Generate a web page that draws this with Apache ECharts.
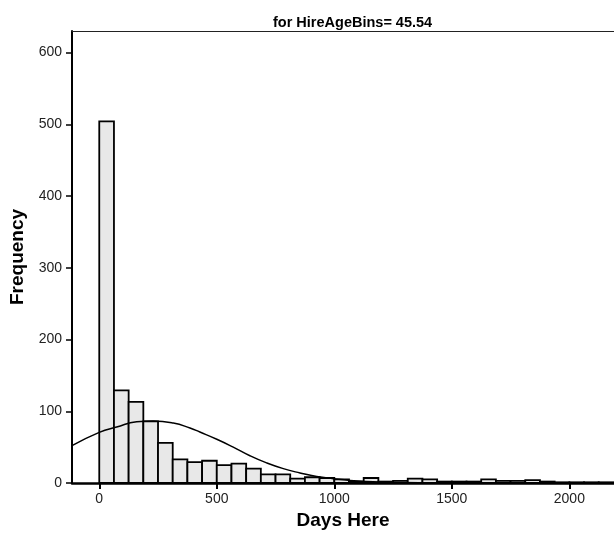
<!DOCTYPE html>
<html>
<head>
	<meta charset="utf-8">
	<title>Days Here</title>
	<style type="text/css">
		body{
			margin: 0px;
			background: #fff;
		}
		.chart{
			width: 614px;
			height: 542px;
		}
	</style>
	<script type="text/javascript" src="https://cdn.jsdelivr.net/npm/echarts@6/dist/echarts.min.js"></script>
</head>
<body>
	<div id="chart" class="chart"></div>
	<script type="text/javascript">
		// histogram: bins of 62.5 days starting at 0
		var binWidth = 62.5;
		var binCounts = [504, 129, 113, 86, 56, 33, 29, 31, 25, 27, 20, 12, 12, 6, 8, 7,
			5, 2, 7, 2, 3, 6, 5, 2, 2, 2, 5, 3, 3, 4, 2, 1, 1, 1, 1];
		// normal curve, points
		var curvePoints = [[-116, 52], [0, 70.5], [74, 78], [159, 85.4], [230, 86.3], [315, 83.5],
			[386, 76.6], [428, 71], [500, 61], [570, 50], [641, 38], [712, 28], [783, 20],
			[854, 14], [925, 9], [996, 6], [1067, 3.6], [1200, 1.5], [1400, 0.4], [1700, 0], [2190, 0]];
		var xTicks = [0, 500, 1000, 1500, 2000];
		var yTicks = [0, 100, 200, 300, 400, 500, 600];

		var binData = [];
		for(var i = 0; i < binCounts.length; i++){
			binData.push([i * binWidth, (i + 1) * binWidth, binCounts[i]]);
		}

		var font = '"Liberation Sans", Arial, sans-serif';
		var chart = echarts.init(document.getElementById('chart'));
		chart.setOption({
			animation: false,
			backgroundColor: '#fff',
			title: {
				text: 'for HireAgeBins= 45.54',
				left: 268,
				top: 10,
				textStyle: {
					fontFamily: font,
					fontWeight: 'bold',
					fontSize: 14.5,
					color: '#000'
				}
			},
			grid: {
				left: 72,
				top: 31,
				right: 0,
				bottom: 59
			},
			xAxis: [{
				type: 'value',
				min: -116,
				max: 2190,
				name: 'Days Here',
				nameLocation: 'middle',
				nameGap: 28,
				nameTextStyle: {
					fontFamily: font,
					fontWeight: 'bold',
					fontSize: 19,
					color: '#000'
				},
				axisLine: {
					onZero: false,
					lineStyle: {color: '#000', width: 2.5}
				},
				axisTick: {
					length: 6,
					customValues: xTicks,
					lineStyle: {color: '#000', width: 2}
				},
				axisLabel: {
					customValues: xTicks,
					margin: 9,
					fontFamily: font,
					fontSize: 14,
					color: '#222',
					formatter: function(v){ return String(v); }
				},
				splitLine: {show: false}
			}, {
				type: 'value',
				position: 'top',
				min: -116,
				max: 2190,
				axisLine: {
					onZero: false,
					lineStyle: {color: '#222', width: 1}
				},
				axisTick: {show: false},
				axisLabel: {show: false},
				splitLine: {show: false}
			}],
			yAxis: {
				type: 'value',
				min: 0,
				max: 630,
				name: 'Frequency',
				nameLocation: 'middle',
				nameGap: 41,
				nameTextStyle: {
					fontFamily: font,
					fontWeight: 'bold',
					fontSize: 19,
					color: '#000'
				},
				axisLine: {
					show: true,
					onZero: false,
					lineStyle: {color: '#000', width: 2}
				},
				axisTick: {
					show: true,
					length: 6,
					customValues: yTicks,
					lineStyle: {color: '#000', width: 1.5}
				},
				axisLabel: {
					customValues: yTicks,
					margin: 10,
					fontFamily: font,
					fontSize: 14,
					color: '#222'
				},
				splitLine: {show: false}
			},
			series: [{
				name: 'bins',
				type: 'custom',
				xAxisIndex: 0,
				renderItem: function(params, api){
					var p0 = api.coord([api.value(0), 0]);
					var p1 = api.coord([api.value(1), api.value(2)]);
					return {
						type: 'rect',
						shape: {
							x: p0[0],
							y: p1[1],
							width: p1[0] - p0[0],
							height: p0[1] - p1[1]
						},
						style: {
							fill: '#e8e8e8',
							stroke: '#000',
							lineWidth: 1.8
						}
					};
				},
				encode: {x: [0, 1], y: 2},
				data: binData,
				z: 2
			}, {
				name: 'normal',
				type: 'line',
				xAxisIndex: 0,
				data: curvePoints,
				smooth: 0.5,
				symbol: 'none',
				lineStyle: {color: '#000', width: 1.5},
				z: 3
			}]
		});
	</script>
</body>
</html>
